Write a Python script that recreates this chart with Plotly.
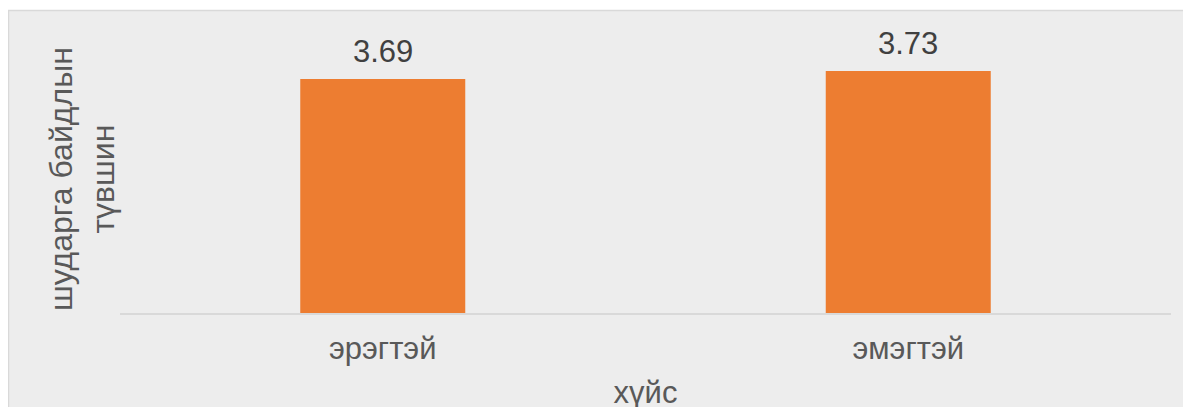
import plotly.graph_objects as go

categories = ["эрэгтэй", "эмэгтэй"]
values = [3.69, 3.73]
value_labels = ["3.69", "3.73"]
y_title = "шударга байдлын<br>түвшин"
x_title = "хүйс"

# page has an 8px body margin: figure pixel = page pixel - 8
OFF = 8
W, H = 1191, 407
L = 120 - OFF
R = W - (1171 - OFF)
T = 18 - OFF
B = H - (313 - OFF)
pw, ph = W - L - R, H - T - B

def px_x(p):
    return (p - OFF - L) / pw

def px_y(p):
    return (H - B - (p - OFF)) / ph

FONT = "Arial, Liberation Sans, sans-serif"

fig = go.Figure()
fig.add_trace(go.Bar(
    x=categories, y=values,
    marker=dict(color="#ED7D31", line=dict(width=0)),
    width=0.314,
    hoverinfo="skip",
))

for c, v, t in zip(categories, values, value_labels):
    fig.add_annotation(x=c, y=v, text=t, showarrow=False,
                       xanchor="center", yanchor="bottom", yshift=8,
                       font=dict(family=FONT, size=31, color="#404040"))

fig.add_annotation(x=px_x(82), y=px_y(179), xref="paper", yref="paper",
                   text=y_title, textangle=-90, showarrow=False,
                   xanchor="center", yanchor="middle",
                   font=dict(family=FONT, size=32, color="#595959"))

fig.add_shape(type="rect", xref="paper", yref="paper",
              x0=px_x(8.5), x1=px_x(1230), y0=px_y(10.5), y1=px_y(460),
              fillcolor="#EDEDED", line=dict(color="#D9D9D9", width=1.5),
              layer="below")

fig.update_layout(
    width=W, height=H,
    margin=dict(l=L, r=R, t=T, b=B, autoexpand=False),
    paper_bgcolor="white",
    plot_bgcolor="rgba(0,0,0,0)",
    showlegend=False,
    xaxis=dict(
        showline=True, linecolor="#D9D9D9", linewidth=2,
        showgrid=False, zeroline=False, ticks="",
        ticklabelstandoff=7,
        tickfont=dict(family=FONT, size=31, color="#595959"),
        title=dict(text=x_title, standoff=16,
                   font=dict(family=FONT, size=31, color="#595959")),
    ),
    yaxis=dict(
        range=[2.5, 4.0], showticklabels=False, showgrid=False,
        zeroline=False, showline=False, ticks="",
    ),
)

fig.write_html("out.html")
